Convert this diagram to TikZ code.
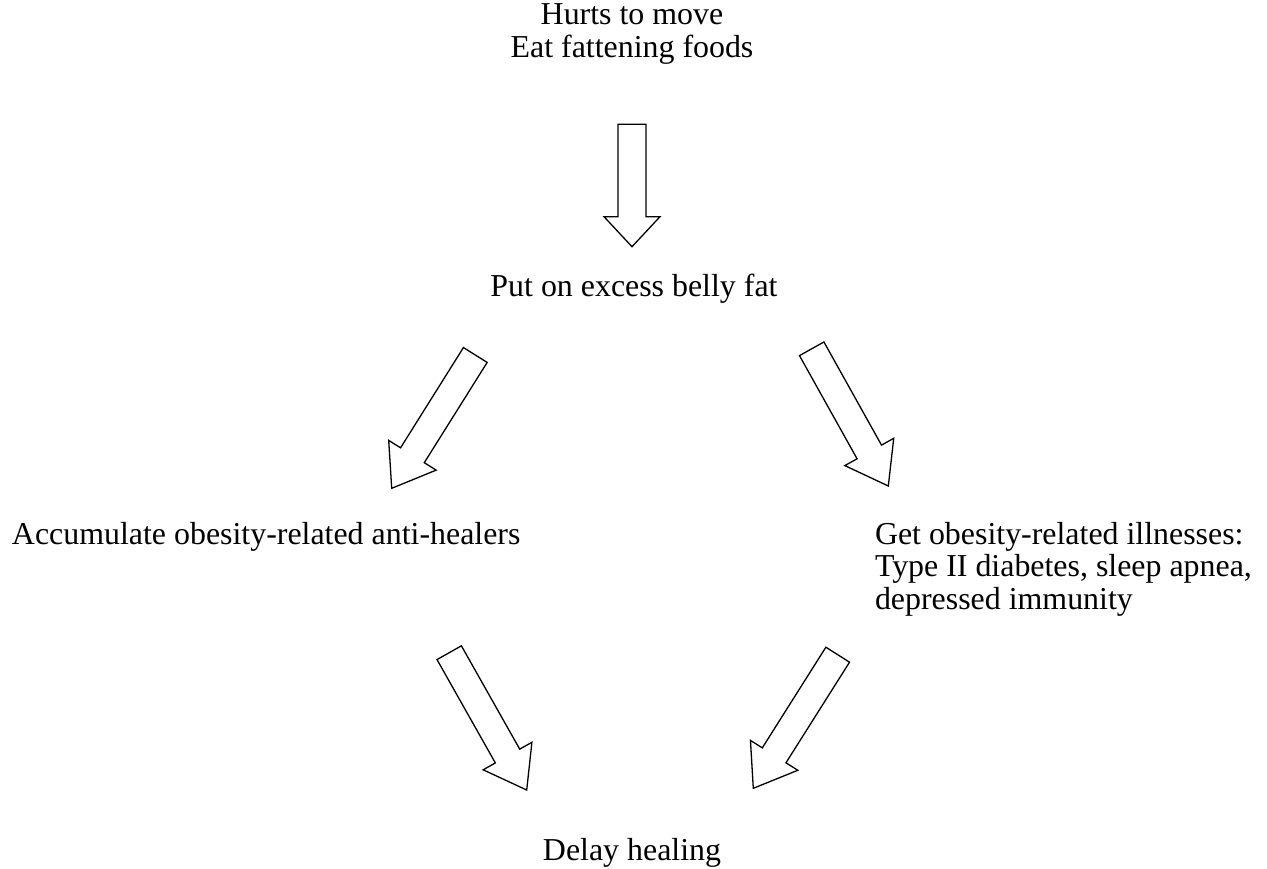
\documentclass[tikz,border=0pt]{standalone}
\usepackage{fontspec}
\setmainfont{Liberation Serif}
\usetikzlibrary{calc}
\tikzset{
  lbl/.style={inner sep=0pt, outer sep=0pt, font=\fontsize{31.9}{32.5}\selectfont},
  blockarrow/.style={draw=black, fill=white, line width=1.3pt, line join=miter},
}
\newcommand{\blockarrow}[3]{%
  \coordinate (#1-h) at ($(#2)!#3!(#1)$);
  \draw[blockarrow] ($(#1)!14pt!90:(#2)$) -- ($(#1-h)!14pt!-90:(#1)$) -- ($(#1-h)!28pt!-90:(#1)$) -- (#2) -- ($(#1-h)!28pt!90:(#1)$) -- ($(#1-h)!14pt!90:(#1)$) -- ($(#1)!14pt!-90:(#2)$) -- cycle;}
\begin{document}
\begin{tikzpicture}[x=1pt,y=-1pt]
\useasboundingbox[fill=white] (0,0) rectangle (1267,869);
% texts (base anchor = baseline of the last line)
\node[lbl, align=center, anchor=base] (top) at (632,57.5) {Hurts to move\\Eat fattening foods};
\node[lbl, anchor=base] (belly) at (634,296) {Put on excess belly fat};
\node[lbl, anchor=base west] (acc) at (12,544) {Accumulate obesity-related anti-healers};
\node[lbl, align=left, anchor=base west] (ill) at (875,609) {Get obesity-related illnesses:\\Type II diabetes, sleep apnea,\\depressed immunity};
\node[lbl, anchor=base] (delay) at (632,860) {Delay healing};
% arrow end points
\coordinate (a1s) at (632,124.3);   \coordinate (a1t) at (632,246.7);
\coordinate (a2s) at (475.3,355);   \coordinate (a2t) at (391.7,488.3);
\coordinate (a3s) at (811.7,348.8); \coordinate (a3t) at (888.3,486);
\coordinate (a4s) at (449.2,652.7); \coordinate (a4t) at (526.7,790);
\coordinate (a5s) at (837.7,654.7); \coordinate (a5t) at (753.3,788.3);
\blockarrow{a1s}{a1t}{30pt}
\blockarrow{a2s}{a2t}{39pt}
\blockarrow{a3s}{a3t}{39pt}
\blockarrow{a4s}{a4t}{39pt}
\blockarrow{a5s}{a5t}{39pt}
\end{tikzpicture}
\end{document}
